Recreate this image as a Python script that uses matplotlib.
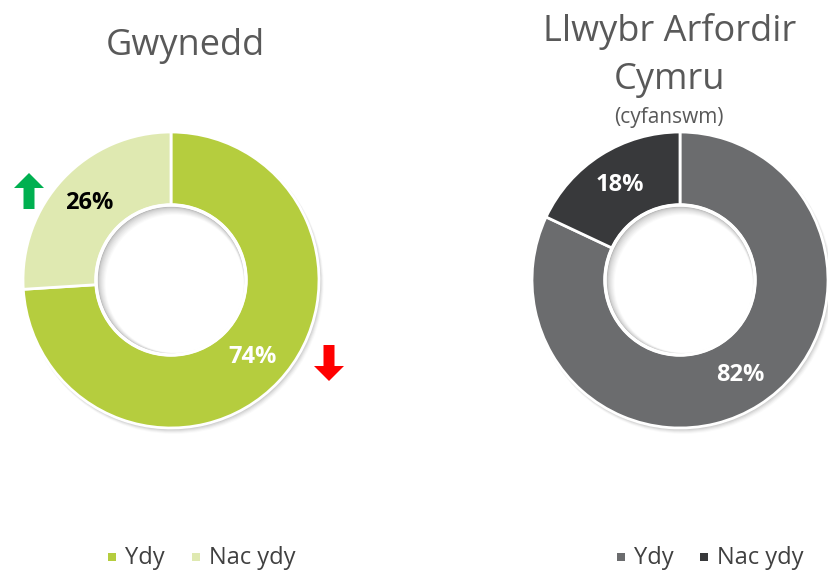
import numpy as np
import matplotlib.pyplot as plt
from matplotlib.patches import Circle, FancyArrow

plt.rcParams['font.family'] = ['Open Sans', 'DejaVu Sans']

categories = ["Ydy", "Nac ydy"]
gwynedd = [74, 26]
cymru = [82, 18]
colors_left = ["#B5CD3E", "#DFE9B1"]
colors_right = ["#6B6C6E", "#38393B"]
label_colors_left = ["white", "black"]
label_colors_right = ["white", "white"]

W, H = 829, 574
fig = plt.figure(figsize=(W / 100, H / 100), dpi=100)
ax = fig.add_axes([0, 0, 1, 1])

R, r_in = 148, 75


def donut(cx, cy, vals, cols, lcols):
    # soft drop shadow
    for k, a in zip(range(6, 0, -1), [0.02, 0.03, 0.04, 0.05, 0.06, 0.07]):
        ax.add_patch(Circle((cx + k * 0.5, cy - k * 0.7), R + k * 0.3, color='black',
                            alpha=a, lw=0, zorder=1))
    ax.add_patch(Circle((cx, cy), R, color='white', lw=0, zorder=1.5))
    wedges, texts, autotexts = ax.pie(vals, colors=cols, startangle=90, counterclock=False,
                                      center=(cx, cy), radius=R, frame=True,
                                      autopct='%d%%', pctdistance=0.76,
                                      wedgeprops=dict(width=R - r_in, edgecolor='white', linewidth=2),
                                      textprops=dict(fontsize=17, fontweight='bold'))
    for w in wedges:
        w.set_zorder(2)
    for t, c in zip(autotexts, lcols):
        t.set_color(c)
        t.set_zorder(5)
    # inner shadow of the hole
    n = 8
    for k in range(n + 1):
        g = 0.72 + 0.28 * (k / n) ** 0.6
        ax.add_patch(Circle((cx + k * 0.45, cy - k * 0.45), r_in - 1.5 - k * 0.55,
                            color=(g, g, g), lw=0, zorder=3 + k * 0.01))
    ax.add_patch(Circle((cx, cy), r_in, fill=False, edgecolor='white', lw=2.5, zorder=3.6))


donut(171, 294, gwynedd, colors_left, label_colors_left)
donut(680, 294, cymru, colors_right, label_colors_right)
ax.set_xlim(0, W)
ax.set_ylim(0, H)
ax.set_aspect('equal')
ax.axis('off')

ax.text(185, 528, "Gwynedd", ha='center', va='center', fontsize=26, color='#595959')
ax.text(670, 543, "Llwybr Arfordir", ha='center', va='center', fontsize=26, color='#595959')
ax.text(670, 494, "Cymru", ha='center', va='center', fontsize=26, color='#595959')
ax.text(669, 456, "(cyfanswm)", ha='center', va='center', fontsize=15, color='#595959')

# arrows
ax.add_patch(FancyArrow(29, 365, 0, 36, width=11, head_width=30, head_length=15,
                        length_includes_head=True, color='#00B050', lw=0, zorder=6))
ax.add_patch(FancyArrow(329, 229, 0, -36, width=11, head_width=30, head_length=15,
                        length_includes_head=True, color='#FF0000', lw=0, zorder=6))


# legends
def legend(xs, cols):
    for xx, c, lab in zip(xs, cols, categories):
        ax.add_patch(plt.Rectangle((xx, 13), 8, 8, color=c, lw=0))
        ax.text(xx + 17, 16, lab, ha='left', va='center', fontsize=17, color='#404040')


legend([108, 192], colors_left)
legend([617, 700], colors_right)

fig.savefig('out.png', dpi=100)
